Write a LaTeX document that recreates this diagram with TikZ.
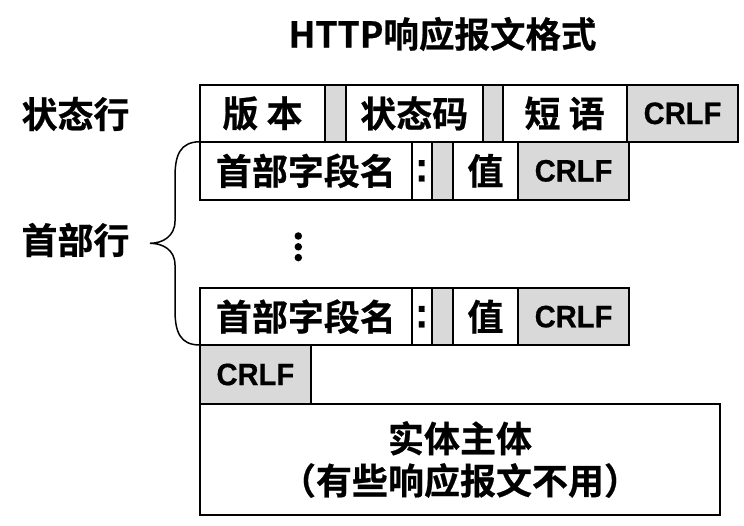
\documentclass[tikz,border=0pt]{standalone}
\usepackage{fontspec}
\setmainfont{Liberation Sans}
\newfontfamily\cjk{Noto Sans CJK SC}[BoldFont={* Bold}, BoldFeatures={FakeBold=0.6}]
\newfontfamily\lat{Liberation Sans}[FakeStretch=0.94, BoldFeatures={FakeBold=0.5}]
\definecolor{cellgray}{RGB}{217,217,217}
\begin{document}
\begin{tikzpicture}[x=1pt,y=-1pt,
  cell/.style={draw=black, line width=2pt, outer sep=0pt, inner sep=0pt, anchor=north west,
    font=\cjk\bfseries\fontsize{36}{38}\selectfont},
  graycell/.style={cell, fill=cellgray},
  crlf/.style={graycell, font=\lat\bfseries\fontsize{31}{33}\selectfont},
  colonc/.style={cell, font=\lat\bfseries\fontsize{42}{44}\selectfont},
  lbl/.style={font=\cjk\bfseries\fontsize{36}{38}\selectfont, inner sep=0pt},
  dot/.style={circle, fill=black, inner sep=0pt, minimum size=7.5pt}]
\useasboundingbox (0,0) rectangle (744,526);
% title
\node[font=\cjk\bfseries\fontsize{35.5}{37}\selectfont, inner sep=0pt] (title) at (442.5,34) {HTTP响应报文格式};
% side labels
\node[lbl] (lstatus) at (75.5,114) {状态行};
\node[lbl] (lhead) at (75.5,240) {首部行};
% status line
\node[cell, minimum width=125, minimum height=56.7] (ver) at (200,85) {版 本};
\node[graycell, minimum width=20.7, minimum height=56.7] (g1) at (325,85) {};
\node[cell, minimum width=137, minimum height=56.7] (code) at (345.7,85) {状态码};
\node[graycell, minimum width=19.8, minimum height=56.7] (g2) at (482.7,85) {};
\node[cell, minimum width=124.2, minimum height=56.7] (phrase) at (502.5,85) {短 语};
\node[crlf, minimum width=111.6, minimum height=56.7] (crlf1) at (626.7,85) {CRLF};
% header line 1
\node[cell, minimum width=211.7, minimum height=58.3] (name1) at (200,141.7) {首部字段名};
\node[colonc, minimum width=20, minimum height=58.3] (colon1) at (411.7,141.7) {:};
\node[graycell, minimum width=20.8, minimum height=58.3] (g3) at (431.7,141.7) {};
\node[cell, minimum width=65.8, minimum height=58.3] (val1) at (452.5,141.7) {值};
\node[crlf, minimum width=110.5, minimum height=58.3] (crlf2) at (518.3,141.7) {CRLF};
% dots
\node[dot] (d1) at (298.3,236) {};
\node[dot] (d2) at (298.3,246.8) {};
\node[dot] (d3) at (298.3,257.6) {};
% header line n
\node[cell, minimum width=211.7, minimum height=56.7] (name2) at (200,288.3) {首部字段名};
\node[colonc, minimum width=20, minimum height=56.7] (colon2) at (411.7,288.3) {:};
\node[graycell, minimum width=20.8, minimum height=56.7] (g4) at (431.7,288.3) {};
\node[cell, minimum width=65.8, minimum height=56.7] (val2) at (452.5,288.3) {值};
\node[crlf, minimum width=110.5, minimum height=56.7] (crlf3) at (518.3,288.3) {CRLF};
% empty line
\node[crlf, minimum width=110.7, minimum height=59] (crlf4) at (200,345) {CRLF};
% body
\node[cell, minimum width=520, minimum height=111, align=center] (body) at (200,404)
  {实体主体\\[4pt]（有些响应报文不用）};
% brace
\coordinate (btop) at (name1.north west);
\coordinate (bbot) at (name2.south west);
\coordinate (btip) at (150,243.3);
\draw[line width=1.5pt] (btop) .. controls (180,142) and (175,155) .. (175,177)
  -- (175,221) .. controls (175,236) and (163,243.3) .. (btip)
  .. controls (163,243.3) and (175,250) .. (175,265)
  -- (175,310) .. controls (175,332) and (180,345) .. (bbot);
\end{tikzpicture}
\end{document}
